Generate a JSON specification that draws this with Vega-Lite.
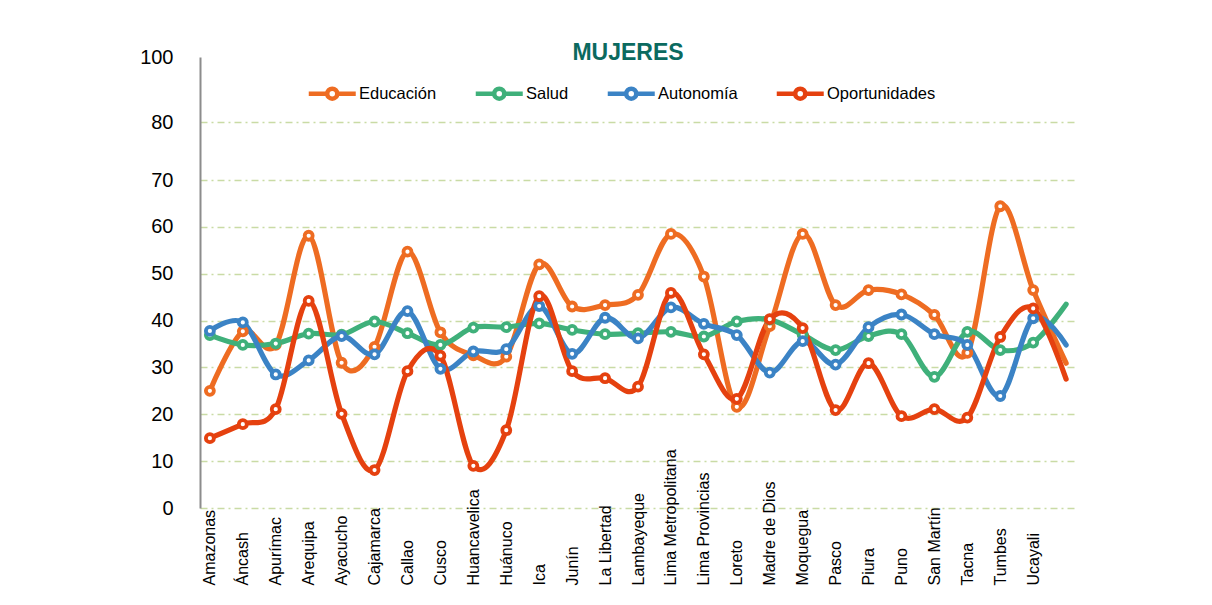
{
  "$schema": "https://vega.github.io/schema/vega-lite/v6.json",
  "autosize": {"type": "none"},
  "padding": {"left": 200, "top": 57, "right": 136, "bottom": 97},
  "width": 876,
  "height": 451,
  "background": "white",
  "config": {"view": {"stroke": null}, "font": "Liberation Sans"},
  "title": {"text": "MUJERES", "fontSize": 23, "fontWeight": "bold", "color": "#0b6a5f", "font": "Liberation Sans", "anchor": "middle", "frame": "group", "baseline": "alphabetic", "offset": -36, "dx": -10},
  "data": {"values": [
    {"region": "Amazonas", "Educación": 25.0, "Salud": 36.9, "Autonomía": 37.8, "Oportunidades": 14.9},
    {"region": "Áncash", "Educación": 37.7, "Salud": 34.8, "Autonomía": 39.6, "Oportunidades": 17.9},
    {"region": "Apurímac", "Educación": 34.8, "Salud": 35.1, "Autonomía": 28.5, "Oportunidades": 21.1},
    {"region": "Arequipa", "Educación": 58.1, "Salud": 37.2, "Autonomía": 31.5, "Oportunidades": 44.2},
    {"region": "Ayacucho", "Educación": 31.0, "Salud": 37.0, "Autonomía": 36.7, "Oportunidades": 20.1},
    {"region": "Cajamarca", "Educación": 34.4, "Salud": 39.8, "Autonomía": 32.8, "Oportunidades": 8.1},
    {"region": "Callao", "Educación": 54.7, "Salud": 37.3, "Autonomía": 42.0, "Oportunidades": 29.2},
    {"region": "Cusco", "Educación": 37.5, "Salud": 34.8, "Autonomía": 29.7, "Oportunidades": 32.5},
    {"region": "Huancavelica", "Educación": 32.6, "Salud": 38.5, "Autonomía": 33.4, "Oportunidades": 9.0},
    {"region": "Huánuco", "Educación": 32.3, "Salud": 38.6, "Autonomía": 33.9, "Oportunidades": 16.6},
    {"region": "Ica", "Educación": 52.0, "Salud": 39.4, "Autonomía": 43.1, "Oportunidades": 45.2},
    {"region": "Junín", "Educación": 43.0, "Salud": 38.0, "Autonomía": 32.9, "Oportunidades": 29.2},
    {"region": "La Libertad", "Educación": 43.3, "Salud": 37.1, "Autonomía": 40.6, "Oportunidades": 27.7},
    {"region": "Lambayeque", "Educación": 45.5, "Salud": 37.3, "Autonomía": 36.2, "Oportunidades": 25.9},
    {"region": "Lima Metropolitana", "Educación": 58.5, "Salud": 37.6, "Autonomía": 42.8, "Oportunidades": 45.9},
    {"region": "Lima Provincias", "Educación": 49.4, "Salud": 36.6, "Autonomía": 39.3, "Oportunidades": 32.8},
    {"region": "Loreto", "Educación": 21.6, "Salud": 39.8, "Autonomía": 36.9, "Oportunidades": 23.3},
    {"region": "Madre de Dios", "Educación": 38.8, "Salud": 40.2, "Autonomía": 28.9, "Oportunidades": 40.3},
    {"region": "Moquegua", "Educación": 58.5, "Salud": 37.0, "Autonomía": 35.6, "Oportunidades": 38.4},
    {"region": "Pasco", "Educación": 43.3, "Salud": 33.7, "Autonomía": 30.6, "Oportunidades": 20.9},
    {"region": "Piura", "Educación": 46.5, "Salud": 36.7, "Autonomía": 38.6, "Oportunidades": 30.9},
    {"region": "Puno", "Educación": 45.6, "Salud": 37.1, "Autonomía": 41.3, "Oportunidades": 19.6},
    {"region": "San Martín", "Educación": 41.2, "Salud": 28.0, "Autonomía": 37.1, "Oportunidades": 21.1},
    {"region": "Tacna", "Educación": 33.1, "Salud": 37.6, "Autonomía": 34.8, "Oportunidades": 19.3},
    {"region": "Tumbes", "Educación": 64.4, "Salud": 33.7, "Autonomía": 23.9, "Oportunidades": 36.5},
    {"region": "Ucayali", "Educación": 46.5, "Salud": 35.3, "Autonomía": 40.5, "Oportunidades": 42.6},
    {"region": "", "Educación": 30.9, "Salud": 43.5, "Autonomía": 34.8, "Oportunidades": 27.5}
  ]},
  "transform": [{"fold": ["Educación", "Salud", "Autonomía", "Oportunidades"], "as": ["serie", "valor"]}],
  "encoding": {
    "x": {"field": "region", "type": "nominal", "sort": null,
      "scale": {"type": "point", "padding": 0.3},
      "axis": {"title": null, "domain": false, "ticks": false, "grid": false, "labelAngle": -90, "labelAlign": "left", "labelBaseline": "middle", "labelPadding": 77, "labelFontSize": 16, "labelColor": "#000000", "labelFont": "Liberation Sans"}},
    "y": {"field": "valor", "type": "quantitative",
      "scale": {"domain": [0, 70, 80, 100], "range": [451, 123, 65, 0], "nice": false, "zero": false},
      "axis": {"title": null, "values": [0, 10, 20, 30, 40, 50, 60, 70, 80, 100], "ticks": false, "domainColor": "#8c8c8c", "domainWidth": 2, "labelFontSize": 20, "labelColor": "#000000", "labelFont": "Liberation Sans", "labelPadding": 27,
        "grid": true, "gridColor": "#c9dba5", "gridWidth": 1.5, "gridDash": [7, 4, 2, 4],
        "gridOpacity": {"condition": {"test": "datum.value === 100", "value": 0}, "value": 1}}},
    "color": {"field": "serie", "type": "nominal",
      "scale": {"domain": ["Educación", "Salud", "Autonomía", "Oportunidades"], "range": ["#ee6c22", "#3fb07a", "#3b83c5", "#e5410f"]},
      "legend": {"title": null, "orient": "none", "direction": "horizontal", "legendX": 124, "legendY": 28, "padding": 0,
        "symbolType": "M-4.7,0L-1,0M1,0L4.7,0M-1,0A1,1,0,1,1,1,0A1,1,0,1,1,-1,0Z",
        "symbolSize": 100, "symbolStrokeWidth": 4.5, "symbolFillColor": "white",
        "labelOffset": 18.5, "labelFontSize": 16.5, "labelColor": "#000000", "labelFont": "Liberation Sans", "columnPadding": 29}}
  },
  "layer": [
    {"mark": {"type": "line", "interpolate": "cardinal", "strokeWidth": 5.2, "strokeCap": "round"}},
    {"transform": [{"filter": "datum.region !== ''"}],
     "mark": {"type": "point", "shape": "circle", "filled": false, "fill": "white", "size": 64, "strokeWidth": 3.8, "opacity": 1}}
  ]
}
